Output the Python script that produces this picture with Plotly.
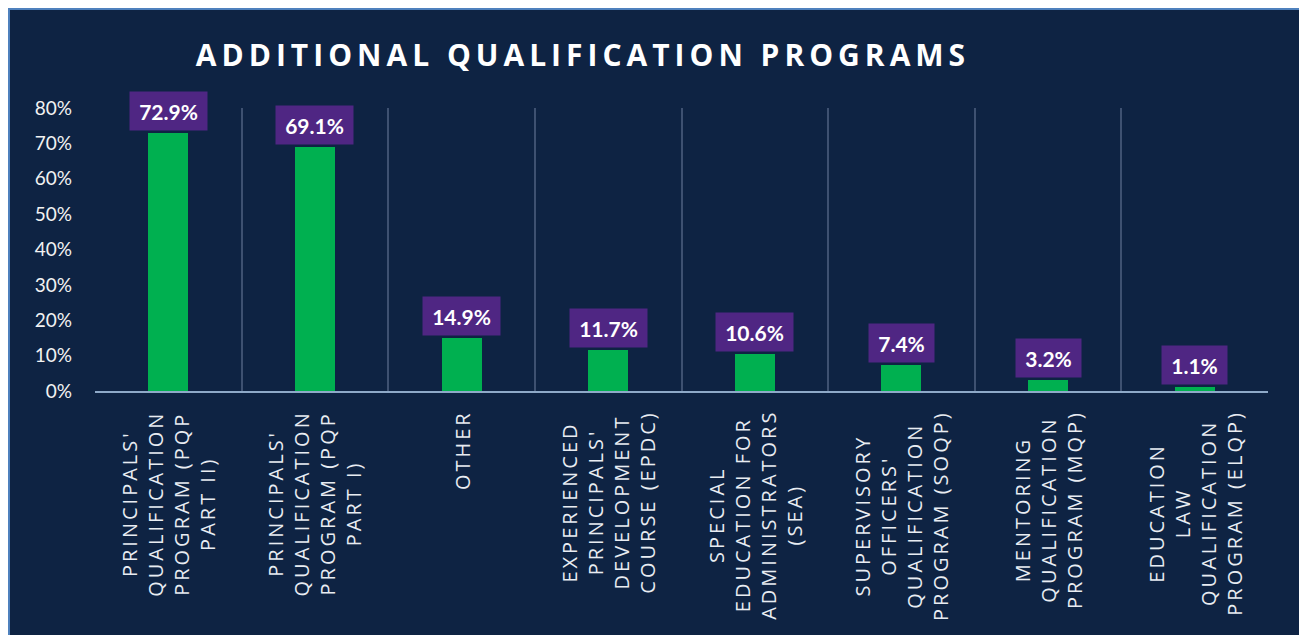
import plotly.graph_objects as go

# ---- data ----
categories = [
    "PRINCIPALS' QUALIFICATION PROGRAM (PQP PART II)",
    "PRINCIPALS' QUALIFICATION PROGRAM (PQP PART I)",
    "OTHER",
    "EXPERIENCED PRINCIPALS' DEVELOPMENT COURSE (EPDC)",
    "SPECIAL EDUCATION FOR ADMINISTRATORS (SEA)",
    "SUPERVISORY OFFICERS' QUALIFICATION PROGRAM (SOQP)",
    "MENTORING QUALIFICATION PROGRAM (MQP)",
    "EDUCATION LAW QUALIFICATION PROGRAM (ELQP)",
]
category_labels = [
    "PRINCIPALS'<br>QUALIFICATION<br>PROGRAM (PQP<br>PART II)",
    "PRINCIPALS'<br>QUALIFICATION<br>PROGRAM (PQP<br>PART I)",
    "OTHER",
    "EXPERIENCED<br>PRINCIPALS'<br>DEVELOPMENT<br>COURSE (EPDC)",
    "SPECIAL<br>EDUCATION FOR<br>ADMINISTRATORS<br>(SEA)",
    "SUPERVISORY<br>OFFICERS'<br>QUALIFICATION<br>PROGRAM (SOQP)",
    "MENTORING<br>QUALIFICATION<br>PROGRAM (MQP)",
    "EDUCATION<br>LAW<br>QUALIFICATION<br>PROGRAM (ELQP)",
]
values = [72.9, 69.1, 14.9, 11.7, 10.6, 7.4, 3.2, 1.1]
value_labels = ["72.9%", "69.1%", "14.9%", "11.7%", "10.6%", "7.4%", "3.2%", "1.1%"]
y_ticks = [0, 10, 20, 30, 40, 50, 60, 70, 80]
y_ticktext = ["0%", "10%", "20%", "30%", "40%", "50%", "60%", "70%", "80%"]
title_text = "ADDITIONAL QUALIFICATION PROGRAMS"

# ---- style ----
# the page body has an 8px white margin, which forms the white strip / edge
OFF = 8
W, H = 1307, 635 - OFF
L, T, B = 95 - OFF, 108 - OFF, 244
R = W - (1268 - OFF)
NAVY = "#0E2343"
GREEN = "#00B050"
PURPLE = "#4F2683"
GRID = "#3E5171"
AXIS = "#8EA9C8"
BORDER = "#4F81BD"
XLAB_SPACING = 3   # px letter spacing of category labels
TITLE_SPACING = 5
XLAB_SIZE = 20

pw, ph = W - L - R, H - T - B

fig = go.Figure()
fig.add_trace(go.Bar(
    x=categories, y=values, width=0.273,
    marker=dict(color=GREEN, line=dict(width=0)),
    hoverinfo="skip",
))

annotations = []
for cat, lab in zip(categories, category_labels):
    nmax = max(len(s) for s in lab.split("<br>"))
    annotations.append(dict(
        x=cat, xref="x", y=0, yref="y", text=lab, textangle=-90,
        showarrow=False, xanchor="center", yanchor="top", align="center",
        yshift=-(17 + nmax * XLAB_SPACING / 2),
        font=dict(family="Open Sans", size=XLAB_SIZE, color="#E8ECF2"),
    ))
for cat, v, lab in zip(categories, values, value_labels):
    annotations.append(dict(
        x=cat, xref="x", y=v, yref="y", text="<b>%s</b>" % lab,
        showarrow=False, xanchor="center", yanchor="bottom", yshift=2,
        bgcolor=PURPLE, borderpad=9, width=12 * len(lab) - 1, height=20,
        font=dict(family="Lato", size=21, color="white"),
    ))

# left and top border lines of the dark panel (paper coords relative to plot area)
px_to_x = lambda px: (px - L) / pw
py_to_y = lambda py: (H - B - py) / ph
shapes = [
    dict(type="line", xref="paper", yref="paper", layer="above",
         x0=px_to_x(1), x1=px_to_x(1), y0=py_to_y(H + 2), y1=py_to_y(0),
         line=dict(color=BORDER, width=2)),
    dict(type="line", xref="paper", yref="paper", layer="above",
         x0=px_to_x(0), x1=px_to_x(W + 2), y0=py_to_y(1), y1=py_to_y(1),
         line=dict(color=BORDER, width=2)),
]

fig.update_layout(
    width=W, height=H,
    margin=dict(l=L, r=R, t=T, b=B, pad=0),
    paper_bgcolor=NAVY, plot_bgcolor=NAVY,
    showlegend=False, bargap=0,
    title=dict(
        text="<b>%s</b>" % title_text,
        x=(583 - OFF) / W, xref="container", xanchor="center",
        y=1 - (55 - OFF) / H, yref="container", yanchor="middle",
        font=dict(family="Open Sans", size=30, color="white"),
    ),
    xaxis=dict(
        type="category", showticklabels=False, ticks="",
        tickson="boundaries", showgrid=True, gridcolor=GRID, gridwidth=2,
        showline=True, linecolor=AXIS, linewidth=1.5, zeroline=False,
        range=[-0.5, 7.5], fixedrange=True,
    ),
    yaxis=dict(
        range=[0, 80], tickvals=y_ticks, ticktext=y_ticktext,
        showgrid=False, zeroline=False, showline=False, ticks="",
        ticklabelstandoff=22,
        tickfont=dict(family="Lato", size=19, color="#F2F2F2"),
        fixedrange=True,
    ),
    annotations=annotations,
    shapes=shapes,
)

n_x = len(categories)
post_js = """
document.documentElement.style.overflow = 'hidden';
document.body.style.overflow = 'hidden';
var gd = document.getElementById('{plot_id}');
function applySpacing(){
  gd.querySelectorAll('g.annotation').forEach(function(g){
    var i = parseInt(g.getAttribute('data-index'));
    var t = g.querySelector('text.annotation-text');
    if (t && i < %d) { t.style.letterSpacing = '%dpx'; }
  });
  var tt = gd.querySelector('text.gtitle');
  if (tt) { tt.style.letterSpacing = '%dpx'; }
}
applySpacing();
gd.on('plotly_afterplot', applySpacing);
""" % (n_x, XLAB_SPACING, TITLE_SPACING)

fig.write_html("out.html", config={"displayModeBar": False}, post_script=post_js)
